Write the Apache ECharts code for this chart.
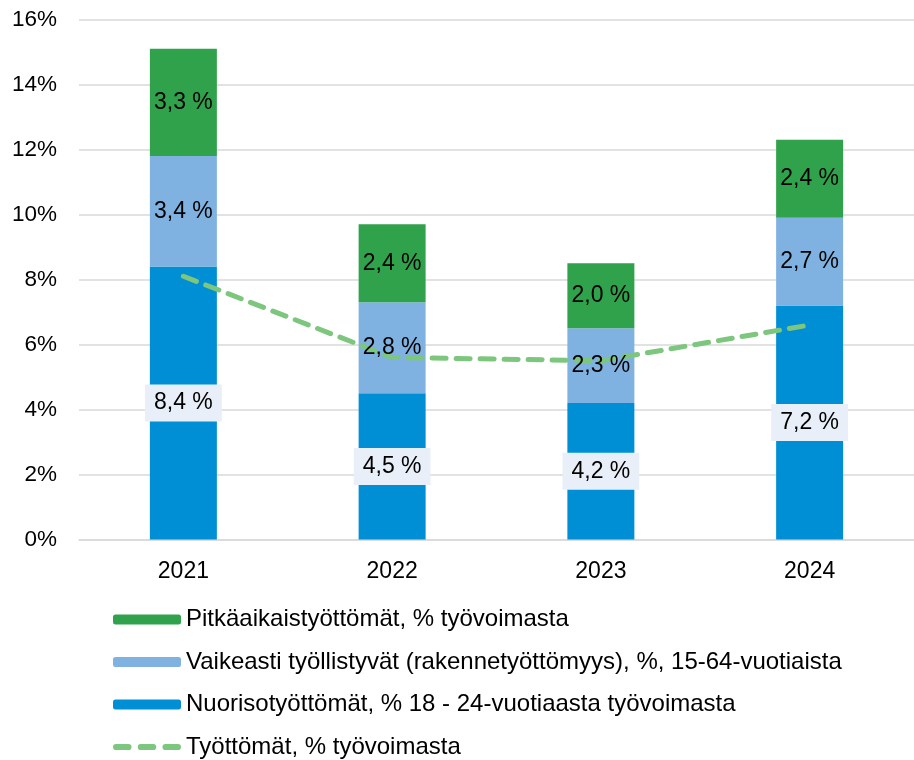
<!DOCTYPE html>
<html>
<head>
<meta charset="utf-8">
<script src="https://cdn.jsdelivr.net/npm/echarts@6/dist/echarts.min.js"></script>
<style>
html, body { margin: 0; padding: 0; background: #fff; }
#chart1 { width: 914px; height: 760px; }
</style>
</head>
<body>
<div id="chart1"></div>
<script>
// data
var years = ['2021', '2022', '2023', '2024'];
var nuoriso = [8.4, 4.5, 4.2, 7.2];
var vaikeasti = [3.4, 2.8, 2.3, 2.7];
var pitkaaikais = [3.3, 2.4, 2.0, 2.4];
var tyottomat = [8.1, 5.6, 5.5, 6.6];
var yTicks = [0, 2, 4, 6, 8, 10, 12, 14, 16];

var names = [
	'Pitkäaikaistyöttömät, % työvoimasta',
	'Vaikeasti työllistyvät (rakennetyöttömyys), %, 15-64-vuotiaista',
	'Nuorisotyöttömät, % 18 - 24-vuotiaasta työvoimasta',
	'Työttömät, % työvoimasta'
];

var FONT = 'Arial, "Liberation Sans", sans-serif';
var BAR_W = 67;

function pct(p) {
	return p.value.toFixed(1).replace('.', ',') + ' %';
}

var myChart = echarts.init(document.getElementById('chart1'));

// plain bar (no label) + transparent twin on top that carries the label,
// so the text sits above the dashed line like in the original
function barSeries(name, data, color) {
	return {
		name: name,
		type: 'bar',
		stack: 'a',
		barWidth: BAR_W,
		barGap: '-100%',
		data: data,
		itemStyle: { color: color }
	};
}
function labelSeries(id, data, extra) {
	var label = { show: true, position: 'inside', formatter: pct, fontSize: 23, color: '#000', fontFamily: FONT };
	for (var k in extra) label[k] = extra[k];
	return {
		name: '_lbl' + id,
		type: 'bar',
		stack: 'lbl',
		barWidth: BAR_W,
		barGap: '-100%',
		z: 5,
		silent: true,
		data: data,
		itemStyle: { color: 'rgba(0,0,0,0)' },
		label: label
	};
}

var dashIcon = 'path://M3,0h12a3,3 0 0 1 0,6h-12a3,3 0 0 1 0,-6z' +
	'M27,0h12a3,3 0 0 1 0,6h-12a3,3 0 0 1 0,-6z' +
	'M51,0h12a3,3 0 0 1 0,6h-12a3,3 0 0 1 0,-6z';

var option = {
	animation: false,
	textStyle: { fontFamily: FONT },
	grid: {
		left: 79,
		top: 19.5,
		width: 844,
		height: 520
	},
	legend: {
		orient: 'vertical',
		left: 113,
		top: 607.5,
		padding: 0,
		itemWidth: 68,
		itemHeight: 10,
		itemGap: 18.5,
		textStyle: { fontSize: 24, color: '#000', fontFamily: FONT, lineHeight: 24 },
		data: [
			names[0],
			names[1],
			names[2],
			{ name: names[3], icon: dashIcon, itemStyle: { color: '#7cc67e' } }
		]
	},
	xAxis: {
		type: 'category',
		data: years,
		axisLine: { lineStyle: { color: '#d9d9d9', width: 1.5 } },
		axisTick: { show: false },
		axisLabel: { fontSize: 23, color: '#000', margin: 21 }
	},
	yAxis: {
		type: 'value',
		min: yTicks[0],
		max: yTicks[yTicks.length - 1],
		interval: 2,
		axisLine: { show: false },
		axisTick: { show: false },
		splitLine: { lineStyle: { color: '#d9d9d9', width: 1.5 } },
		axisLabel: {
			fontSize: 22.5,
			color: '#000',
			margin: 22,
			formatter: function (v) { return v + '%'; }
		}
	},
	series: [
		barSeries(names[2], nuoriso, '#008fd5'),
		barSeries(names[1], vaikeasti, '#7fb2e0'),
		barSeries(names[0], pitkaaikais, '#30a24b'),
		{
			name: names[3],
			type: 'line',
			data: tyottomat,
			symbol: 'none',
			z: 3,
			itemStyle: { color: '#7cc67e' },
			lineStyle: { color: '#7cc67e', width: 5, type: [14, 10], cap: 'round' }
		},
		labelSeries(1, nuoriso, { backgroundColor: '#e8eff8', padding: [7, 9] }),
		labelSeries(2, vaikeasti, {}),
		labelSeries(3, pitkaaikais, {})
	]
};

myChart.setOption(option);
</script>
</body>
</html>
